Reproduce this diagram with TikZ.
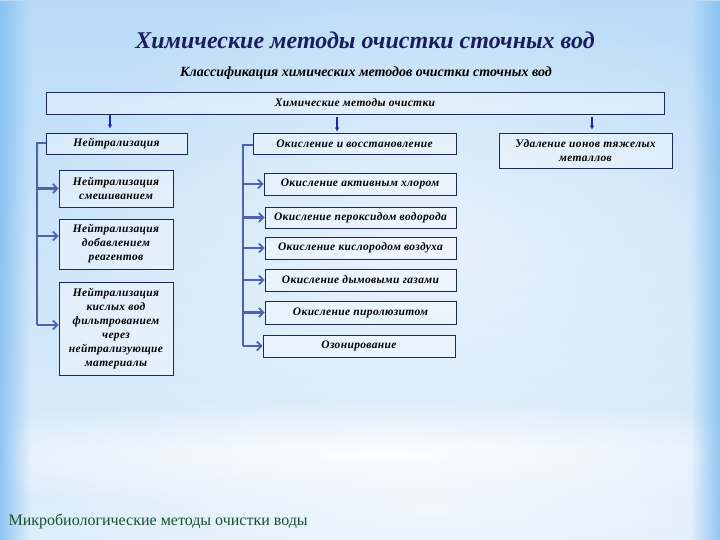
\documentclass[tikz,border=0pt]{standalone}
\usepackage{fontspec}
\setmainfont{Liberation Serif}
\newfontfamily\boxfont[LetterSpace=3]{Liberation Serif}
\usepackage{tikz}
\usetikzlibrary{arrows.meta,fadings}

\definecolor{bgtop}{RGB}{186,219,247}
\definecolor{bgbot}{RGB}{222,238,251}
\definecolor{bgedge}{RGB}{125,188,240}
\definecolor{titlenavy}{RGB}{26,30,92}
\definecolor{boxline}{RGB}{30,40,90}
\definecolor{branchblue}{RGB}{78,98,176}
\definecolor{downblue}{RGB}{25,40,170}
\definecolor{microgreen}{RGB}{22,80,50}

\tikzfading[name=softglow,inner color=transparent!0,outer color=transparent!100]

\begin{document}
\begin{tikzpicture}[x=1pt,y=-1pt,
  every node/.style={font=\boxfont\bfseries\itshape\fontsize{11.5}{14}\selectfont},
  methodbox/.style={draw=boxline,line width=0.9pt,fill=white,fill opacity=0.35,
    text opacity=1,align=center,inner sep=1pt},
  spine/.style={branchblue,line width=2.4pt},
  branch/.style={branchblue,line width=2.4pt,-{Straight Barb[length=4.5pt,width=9pt,line width=1.8pt]}},
  downarrow/.style={downblue,line width=1.2pt,-{Latex[length=4pt,width=4.5pt]}}
]
  % Background
  \useasboundingbox (0,0) rectangle (720,540);
  \shade[top color=bgtop,bottom color=bgbot] (0,0) rectangle (720,540);
  \fill[white,opacity=0.55,path fading=softglow] (420,240) ellipse (420 and 260);
  \fill[white,opacity=0.95,path fading=softglow] (380,455) ellipse (560 and 55);
  \fill[white,opacity=0.6,path fading=softglow] (430,510) ellipse (420 and 60);
  \fill[bgedge,opacity=0.8,path fading=east] (0,0) rectangle (30,540);
  \fill[bgedge,opacity=0.8,path fading=west] (690,0) rectangle (720,540);

  % Titles
  \node[font=\fontsize{24}{28}\selectfont\bfseries\itshape,text=titlenavy] (title)
    at (365,40) {Химические методы очистки сточных вод};
  \node[font=\fontsize{14}{16}\selectfont\bfseries\itshape] (subtitle)
    at (366,73) {Классификация химических методов очистки сточных вод};

  % Top box
  \node[methodbox,minimum width=618,minimum height=22] (chem) at (355,103)
    {Химические методы очистки};

  % Groups
  \node[methodbox,minimum width=141,minimum height=21] (neut) at (116.5,143.5)
    {Нейтрализация};
  \node[methodbox,minimum width=203,minimum height=21] (redox) at (354.5,143.5)
    {Окисление и восстановление};
  \node[methodbox,minimum width=173,minimum height=35] (metals) at (585.5,150.5)
    {Удаление ионов тяжелых\\металлов};

  % Neutralisation column
  \node[methodbox,minimum width=114,minimum height=37] (neutmix) at (116,188.5)
    {Нейтрализация\\смешиванием};
  \node[methodbox,minimum width=114,minimum height=50] (neutreag) at (116,244)
    {Нейтрализация\\добавлением\\реагентов};
  \node[methodbox,minimum width=114,minimum height=93] (neutfilt) at (116,328.5)
    {Нейтрализация\\кислых вод\\фильтрованием\\через\\нейтрализующие\\материалы};

  % Oxidation column
  \node[methodbox,minimum width=192,minimum height=22] (oxcl) at (360,184)
    {Окисление активным хлором};
  \node[methodbox,minimum width=191,minimum height=21] (oxperox) at (360.5,217.5)
    {Окисление пероксидом водорода};
  \node[methodbox,minimum width=191,minimum height=22] (oxair) at (360.5,248)
    {Окисление кислородом воздуха};
  \node[methodbox,minimum width=191,minimum height=22] (oxflue) at (360.5,280)
    {Окисление дымовыми газами};
  \node[methodbox,minimum width=191,minimum height=23] (oxpyro) at (360.5,312.5)
    {Окисление пиролюзитом};
  \node[methodbox,minimum width=192,minimum height=22] (ozone) at (359,346)
    {Озонирование};

  % Down arrows
  \coordinate (d1) at (110,0);
  \coordinate (d2) at (337,0);
  \coordinate (d3) at (592,0);
  \draw[downarrow,shorten <=1pt,shorten >=4pt] (chem.south -| d1) -- (neut.north -| d1);
  \draw[downarrow,shorten <=3pt,shorten >=1pt] (chem.south -| d2) -- (redox.north -| d2);
  \draw[downarrow,shorten <=3pt,shorten >=3pt] (chem.south -| d3) -- (metals.north -| d3);

  % Left bracket
  \coordinate (lspine) at (37,325);
  \draw[spine,line width=2pt] (neut.west) -| (lspine);
  \draw[branch] (lspine |- neutmix.west) -- (neutmix.west);
  \draw[branch] ([yshift=8pt]neutreag.west -| lspine) -- ([yshift=8pt]neutreag.west);
  \draw[branch] (lspine) -- (lspine -| neutfilt.west);

  % Middle bracket
  \coordinate (rspine) at (243,346);
  \draw[spine,line width=2pt] ([yshift=-1.5pt]redox.west) -| (rspine);
  \foreach \b in {oxcl,oxperox,oxair,oxflue,oxpyro,ozone}
    \draw[branch] (rspine |- \b.west) -- (\b.west);

  % Footer
  \node[font=\fontsize{16}{18}\selectfont,text=microgreen,anchor=west] (micro)
    at (5,521) {Микробиологические методы очистки воды};
\end{tikzpicture}
\end{document}
